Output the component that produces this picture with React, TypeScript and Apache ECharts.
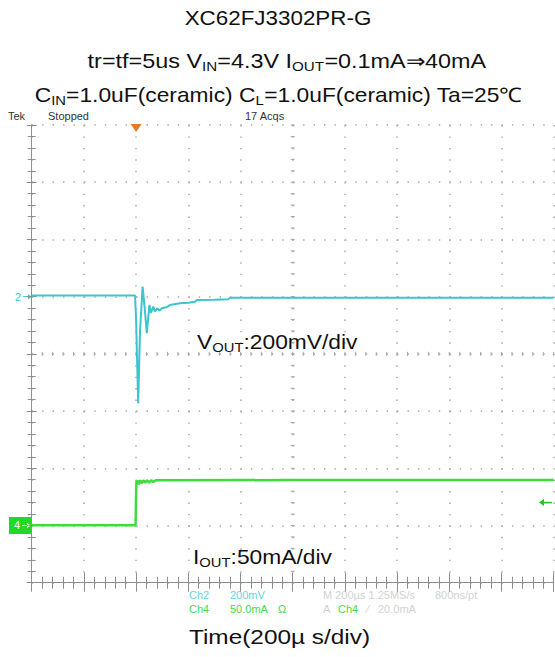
import React, { useEffect, useRef } from "react";
import * as echarts from "echarts";

// ---- data ----
// VOUT (Ch2) deviation in mV vs time in µs (200 mV/div, 200 µs/div)
const voutTimeUs = [0, 396, 400, 408, 415, 425, 433, 441, 451, 457, 466, 472, 481, 489, 500, 517, 530, 550, 568, 600, 626, 632, 700, 752, 760, 1000, 1500, 2000];
const voutDeltaMv = [4, 4, -80, -373, -120, 35, -40, -128, -29, -57, -35, -53, -41, -49, -40, -37, -29, -26, -23, -21, -18, -12, -11, -9, -4, -4, -4, -4];
// IOUT (Ch4) in mA vs time in µs (50 mA/div)
const ioutTimeUs = [0, 398, 401, 405, 410, 416, 422, 428, 434, 442, 450, 458, 466, 475, 490, 1000, 2000];
const ioutMa = [0.1, 0.1, 38, 39.5, 36, 39.5, 37, 39.5, 37.5, 39.5, 37.5, 39.5, 38, 39.5, 39.5, 39.7, 39.7];

const triggerTimeUs = 400;
const triggerLevelMa = 20;

const xRange = { min: 0, max: 2000, interval: 200 };
const divRange = { min: 0, max: 8, interval: 1 };
const voutRange = { min: -1000, max: 600 };
const ioutRange = { min: -50, max: 350 };

const titleLines = [
  "XC62FJ3302PR-G",
  "tr=tf=5us V{sub|IN}=4.3V I{sub|OUT}=0.1mA⇒40mA",
  "C{sub|IN}=1.0uF(ceramic) C{sub|L}=1.0uF(ceramic) Ta=25℃",
];

const CYAN = "#3cc4cf";
const GREEN = "#3ddc3d";
const FRAME = "#8e8e8e";
const GRIDDOT = "#a6a6a6";
const SANS = "'Liberation Sans', Arial, sans-serif";
const NARROW = "'Liberation Sans Narrow', 'Liberation Sans', Arial, sans-serif";

const zip = (a: number[], b: number[]) => a.map((v, i) => [v, b[i]]);

export default function App() {
  const ref = useRef<HTMLDivElement>(null);
  useEffect(() => {
    const chart = echarts.init(ref.current!, null, { renderer: "svg" });
    const axisCommon = {
      axisLine: { show: true, lineStyle: { color: FRAME, width: 1 } },
      axisLabel: { show: false },
    };
    chart.setOption({
      animation: false,
      backgroundColor: "#ffffff",
      grid: { left: 31.7, right: 1.3, top: 125, bottom: 74.3, containLabel: false },
      xAxis: [
        {
          type: "value", ...xRange, position: "bottom", ...axisCommon,
          axisTick: { show: true, inside: true, length: 10, lineStyle: { color: FRAME } },
          minorTick: { show: true, splitNumber: 5, length: 6, lineStyle: { color: FRAME } },
          splitLine: { show: true, lineStyle: { color: GRIDDOT, width: 1.5, type: [1.4, 10.04] } },
        },
        {
          type: "value", ...xRange, position: "top", ...axisCommon,
          axisTick: { show: true, inside: true, length: 9, lineStyle: { color: FRAME } },
          minorTick: { show: true, splitNumber: 5, length: 6, lineStyle: { color: FRAME } },
          splitLine: { show: false },
        },
      ],
      yAxis: [
        {
          type: "value", ...divRange, position: "left", ...axisCommon,
          axisTick: { show: true, inside: true, length: 5, lineStyle: { color: FRAME } },
          minorTick: { show: true, splitNumber: 5, length: 4, lineStyle: { color: FRAME } },
          splitLine: { show: true, lineStyle: { color: GRIDDOT, width: 1.5, type: [1.4, 9.04] } },
        },
        {
          type: "value", ...divRange, position: "right", ...axisCommon,
          axisTick: { show: true, inside: true, length: 5, lineStyle: { color: FRAME } },
          minorTick: { show: true, splitNumber: 5, length: 4, lineStyle: { color: FRAME } },
          splitLine: { show: false },
        },
        { type: "value", ...voutRange, show: false },
        { type: "value", ...ioutRange, show: false },
      ],
      series: [
        {
          type: "line", name: "VOUT", xAxisIndex: 0, yAxisIndex: 2, data: zip(voutTimeUs, voutDeltaMv),
          symbol: "none", lineStyle: { color: CYAN, width: 2 }, z: 5,
        },
        {
          type: "line", name: "IOUT", xAxisIndex: 0, yAxisIndex: 3, data: zip(ioutTimeUs, ioutMa),
          symbol: "none", lineStyle: { color: GREEN, width: 2.5 }, z: 5,
        },
      ],
    });

    const px = (v: number) => chart.convertToPixel({ xAxisIndex: 0 } as any, v) as number;
    const pyD = (v: number) => chart.convertToPixel({ yAxisIndex: 0 } as any, v) as number;
    const pyV = (v: number) => chart.convertToPixel({ yAxisIndex: 2 } as any, v) as number;
    const pyI = (v: number) => chart.convertToPixel({ yAxisIndex: 3 } as any, v) as number;
    const tx = px(triggerTimeUs);
    const ch2y = pyV(0);
    const ch4y = pyI(0);
    const trigY = pyI(triggerLevelMa);

    // centre cross minor ticks (scope graticule)
    const cx = px((xRange.min + xRange.max) / 2);
    const cy = pyD((divRange.min + divRange.max) / 2);
    const crossTicks: any[] = [];
    for (let i = 0; i <= 50; i++) {
      const x = px(xRange.min + (i * (xRange.max - xRange.min)) / 50);
      crossTicks.push({ type: "line", silent: true, shape: { x1: x, y1: cy - 2, x2: x, y2: cy + 2 }, style: { stroke: GRIDDOT, lineWidth: 1 } });
    }
    for (let j = 0; j <= 40; j++) {
      const y = pyD(divRange.min + (j * (divRange.max - divRange.min)) / 40);
      crossTicks.push({ type: "line", silent: true, shape: { x1: cx - 2, y1: y, x2: cx + 2, y2: y }, style: { stroke: GRIDDOT, lineWidth: 1 } });
    }

    const subRich = { sub: { fontSize: 13, fontFamily: SANS, fill: "#111", padding: [10, 0, 0, 0] } };
    const txt = (x: number, y: number, text: string, fill: string, fontSize: number, font = NARROW, align = "left") => ({
      type: "text", x, y, silent: true,
      style: { text, fill, fontSize, fontFamily: font, align, verticalAlign: "middle" },
    });
    const bigText = (x: number, y: number, text: string, scaleX: number, align: string, fontSize = 20) => ({
      type: "text", x, y, scaleX, silent: true,
      style: { text, fill: "#111", fontSize, fontFamily: SANS, align, verticalAlign: "middle", rich: subRich },
    });

    chart.setOption({
      graphic: [
        ...crossTicks,
        // titles
        bigText(278, 18, titleLines[0], 1.12, "center"),
        bigText(287, 61, titleLines[1], 1.17, "center"),
        bigText(278.5, 95, titleLines[2], 1.14, "center"),
        // scope header
        txt(8, 116, "Tek", "#333", 11),
        txt(48, 116, "Stopped", "#333", 11),
        txt(245, 116, "17 Acqs", "#333", 11),
        // trigger position marker
        { type: "polygon", shape: { points: [[tx - 5.5, 124], [tx + 5.5, 124], [tx, 132]] }, style: { fill: "#e8782a" }, z: 10 },
        // ch2 marker
        txt(15, ch2y, "2", CYAN, 11, NARROW),
        { type: "line", shape: { x1: 23, y1: ch2y, x2: 31, y2: ch2y }, style: { stroke: CYAN, lineWidth: 1 } },
        { type: "polygon", shape: { points: [[28, ch2y - 2.5], [32, ch2y], [28, ch2y + 2.5]] }, style: { fill: CYAN } },
        // ch4 marker
        { type: "rect", shape: { x: 9, y: ch4y - 8.5, width: 22.5, height: 17 }, style: { fill: "#22d822" } },
        txt(14, ch4y, "4", "#ffffff", 11, NARROW),
        { type: "line", shape: { x1: 22, y1: ch4y, x2: 30, y2: ch4y }, style: { stroke: "#ffffff", lineWidth: 1 } },
        { type: "polygon", shape: { points: [[27, ch4y - 2.5], [31, ch4y], [27, ch4y + 2.5]] }, style: { fill: "#ffffff" } },
        // trigger level marker
        { type: "line", shape: { x1: 542, y1: trigY, x2: 552, y2: trigY }, style: { stroke: "#22c822", lineWidth: 1.5 } },
        { type: "polygon", shape: { points: [[539, trigY], [544, trigY - 3.5], [544, trigY + 3.5]] }, style: { fill: "#22c822" } },
        // annotations
        bigText(197, 342, "V{sub|OUT}:200mV/div", 1.14, "left"),
        bigText(193, 557, "I{sub|OUT}:50mA/div", 1.14, "left"),
        // bottom status
        txt(189, 595, "Ch2", "#66d4e6", 11),
        txt(230, 595, "200mV", "#66d4e6", 11),
        txt(189, 609, "Ch4", "#4cd64c", 11),
        txt(230, 609, "50.0mA", "#4cd64c", 11),
        txt(278, 609, "Ω", "#4cd64c", 11),
        txt(323, 595, "M 200µs 1.25MS/s", "#d2d2d2", 11),
        txt(435, 595, "800ns/pt", "#d2d2d2", 11),
        txt(323, 609, "A", "#d2d2d2", 11),
        txt(338, 609, "Ch4", "#4cd64c", 11),
        txt(367, 609, "⁄", "#d2d2d2", 11),
        txt(378, 609, "20.0mA", "#d2d2d2", 11),
        // x title
        bigText(279.5, 637, "Time(200µ s/div)", 1.22, "center"),
      ],
    });
    return () => chart.dispose();
  }, []);
  return <div ref={ref} style={{ position: "absolute", left: 0, top: 0, width: 555, height: 657 }} />;
}
